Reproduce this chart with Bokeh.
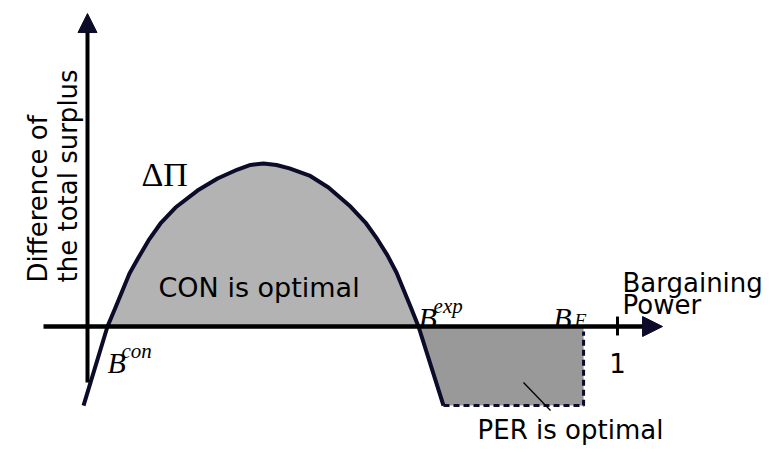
import math
from bokeh.plotting import figure
from bokeh.models import Arrow, NormalHead
from bokeh.core.properties import value
from bokeh.embed import file_html
from bokeh.resources import INLINE

# ---- data (bargaining power on x, difference of total surplus on y) ----
curve_x = [-0.0075, 0.0377, 0.0528, 0.0660, 0.0792, 0.0962, 0.1151, 0.1377,
           0.1660, 0.2075, 0.2453, 0.2830, 0.3075, 0.3321, 0.3566, 0.3811,
           0.4189, 0.4547, 0.4962, 0.5245, 0.5472, 0.5660, 0.5830, 0.5962,
           0.6094, 0.6245, 0.6717]
curve_y = [-0.485, 0.0, 0.117, 0.221, 0.325, 0.423, 0.528, 0.632,
           0.730, 0.834, 0.908, 0.963, 0.991, 1.0, 0.991, 0.970,
           0.926, 0.853, 0.736, 0.638, 0.534, 0.436, 0.331, 0.227,
           0.123, 0.0, -0.485]
b_con = 0.0377
b_exp = 0.6245
b_f = 0.936
per_floor = -0.485
x_ticks = [1]
x_tick_labels = ["1"]

NAVY = "#0c0c2a"
LIGHT = "#b3b3b3"
DARK = "#999999"

p = figure(width=764, height=447, x_range=(-0.16415, 1.27736),
           y_range=(-0.74233, 2.0), output_backend="svg",
           toolbar_location=None, min_border=0, title=None,
           x_axis_location=None, y_axis_location=None)
p.grid.visible = False
p.outline_line_color = None
p.background_fill_color = "white"

# shaded regions
con_x = [x for x, y in zip(curve_x, curve_y) if b_con <= x <= b_exp]
con_y = [y for x, y in zip(curve_x, curve_y) if b_con <= x <= b_exp]
p.patch(con_x, con_y, fill_color=LIGHT, line_color=None)
p.patch([b_exp, curve_x[-1], b_f, b_f], [0, per_floor, per_floor, 0],
        fill_color=DARK, line_color=None)

# axes with arrow heads
p.add_layout(Arrow(x_start=-0.083, y_start=0, x_end=1.085, y_end=0,
                   line_width=4.5, line_color="black",
                   end=NormalHead(size=20, fill_color=NAVY, line_color=NAVY)))
p.add_layout(Arrow(x_start=0, y_start=-0.344, x_end=0, y_end=1.92,
                   line_width=4, line_color="black",
                   end=NormalHead(size=19, fill_color=NAVY, line_color=NAVY)))

# tick at 1
p.segment(x0=x_ticks, y0=[0.061], x1=x_ticks, y1=[-0.055],
          line_width=3, line_color="black")

# main curve
p.line(curve_x, curve_y, line_width=4, line_color=NAVY,
       line_join="round")

# dashed border of PER region
p.line([curve_x[-1], b_f, b_f], [per_floor, per_floor, -0.03],
       line_width=3, line_color=NAVY, line_dash="6 4")

# pointer to PER label
p.line([0.8226, 0.8736], [-0.344, -0.515], line_width=1.3, line_color="black")

SANS = value("DejaVu Sans")
SERIF = value("Liberation Serif")

def txt(t, x, y, font, size, style="normal", align="left", angle=0.0):
    p.text(x=[x], y=[y], text=[t], text_font=font, text_font_size=size,
           text_font_style=style, text_align=align,
           text_baseline="alphabetic", text_color="black", angle=angle)

txt("CON is optimal", 0.134, 0.239, SANS, "27px")
txt("PER is optimal", 0.736, -0.638, SANS, "26px")
txt(x_tick_labels[0], x_ticks[0], -0.221, SANS, "26px", align="center")
txt("Bargaining", 1.0094, 0.264, SANS, "26px")
txt("Power", 1.0094, 0.129, SANS, "26px")
txt("Difference of", -0.0943, 0.270, SANS, "26px", angle=math.pi / 2)
txt("the total surplus", -0.0377, 0.270, SANS, "26px", angle=math.pi / 2)

txt("ΔΠ", 0.1019, 0.933, SERIF, "34px")
txt("B", 0.0377, -0.221, SERIF, "30px", style="italic")
txt("con", 0.064, -0.153, SERIF, "21px", style="italic")
txt("B", 0.6245, 0.055, SERIF, "30px", style="italic")
txt("exp", 0.653, 0.123, SERIF, "21px", style="italic")
txt("B", 0.879, 0.055, SERIF, "30px", style="italic")
txt("F", 0.919, 0.037, SERIF, "19px", style="italic")

open("out.html", "w").write(file_html(p, INLINE))
